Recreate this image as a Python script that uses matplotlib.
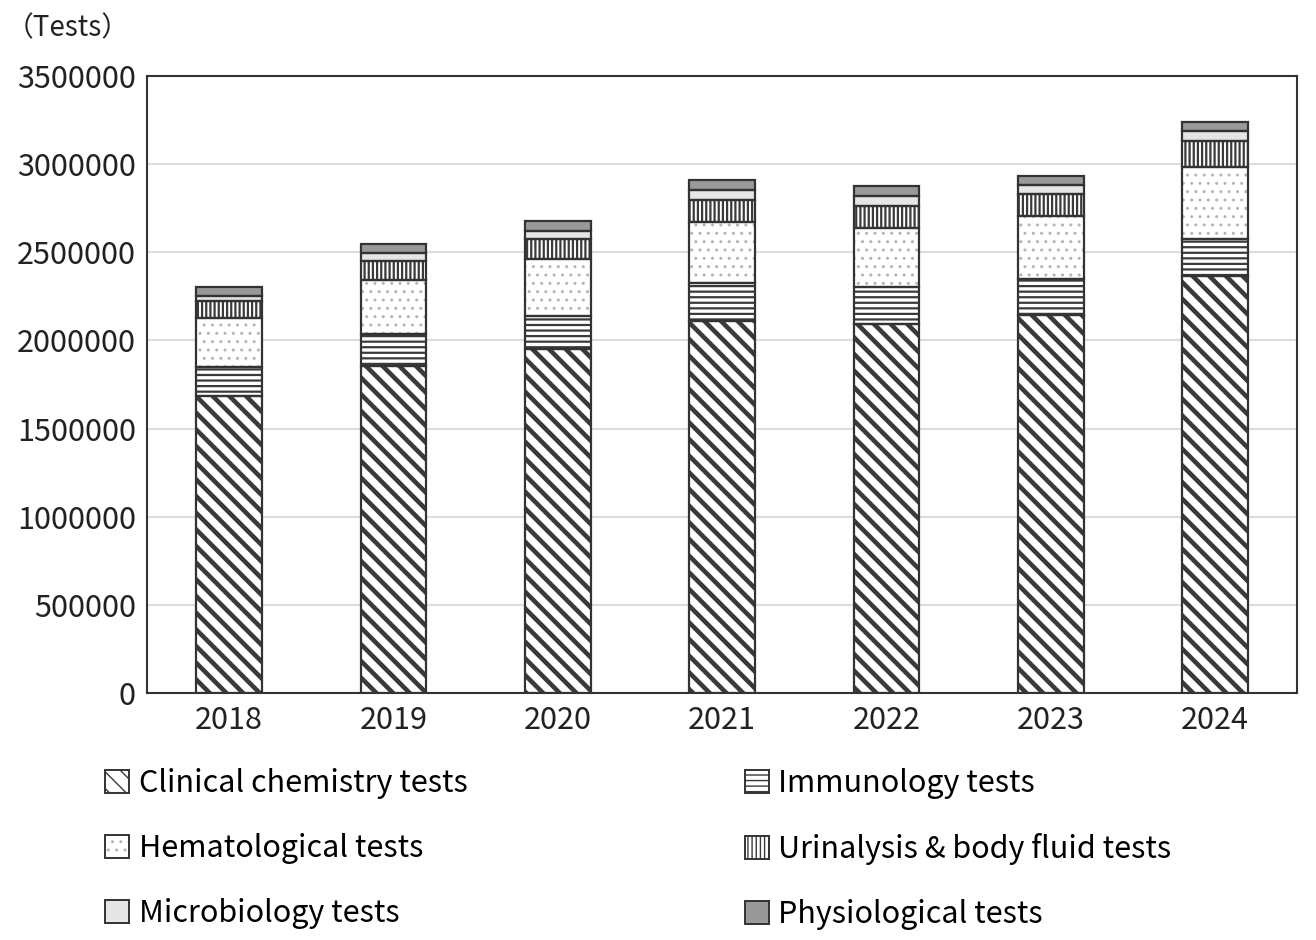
import matplotlib
matplotlib.use("Agg")
import matplotlib.pyplot as plt
from matplotlib.patches import Patch
from matplotlib.legend_handler import HandlerTuple
import numpy as np

plt.rcParams['font.family'] = ['Noto Sans CJK JP', 'DejaVu Sans']

years = ["2018", "2019", "2020", "2021", "2022", "2023", "2024"]
clinical = [1685000, 1857000, 1951000, 2112000, 2092000, 2144000, 2366000]
immuno = [166000, 178000, 187000, 212000, 210000, 203000, 210000]
hema = [275000, 308000, 323000, 350000, 338000, 361000, 410000]
urine = [100000, 110000, 114000, 121000, 125000, 123000, 144000]
micro = [28000, 45000, 45000, 58000, 57000, 53000, 58000]
physio = [48000, 48000, 55000, 57000, 57000, 49000, 51000]

labels = ["Clinical chemistry tests", "Immunology tests", "Hematological tests",
          "Urinalysis & body fluid tests", "Microbiology tests", "Physiological tests"]
series = [clinical, immuno, hema, urine, micro, physio]
# fill colour, hatch, hatch colour, hatch linewidth
styles = [("white", "\\\\", "#3a3a3a", 3.3),
          ("white", "---", "#3a3a3a", 1.6),
          ("white", "..", "#b5b5b5", 1.0),
          ("white", "||||", "#3a3a3a", 1.6),
          ("#e6e6e6", "", "#e6e6e6", 1.0),
          ("#999999", "", "#999999", 1.0)]

fig = plt.figure(figsize=(13.16, 9.4), dpi=100)
ax = fig.add_axes([0.1117, 0.2628, 0.874, 0.6563])

x = np.arange(len(years))
w = 0.40
bottom = np.zeros(len(years))
handles = []
for vals, (fc, hatch, hc, hlw), lab in zip(series, styles, labels):
    plt.rcParams['hatch.linewidth'] = hlw
    bars = ax.bar(x, vals, w, bottom=bottom, color=fc, edgecolor=hc, hatch=hatch,
                  linewidth=0, zorder=2)
    for b in bars:
        if hasattr(b, "set_hatch_linewidth"):
            b.set_hatch_linewidth(hlw)
    ax.bar(x, vals, w, bottom=bottom, fill=False, edgecolor="#333333",
           linewidth=1.6, zorder=3)
    hp = Patch(facecolor=fc, edgecolor=hc, hatch=hatch, linewidth=0)
    if hasattr(hp, "set_hatch_linewidth"):
        hp.set_hatch_linewidth(min(hlw, 2.2))
    handles.append((hp, Patch(fill=False, edgecolor="#333333", linewidth=1.4), lab))
    bottom += np.array(vals)

ax.set_xlim(-0.5, 6.5)
ax.set_ylim(0, 3500000)
ax.set_yticks(np.arange(0, 3500001, 500000))
ax.set_yticklabels([str(v) for v in range(0, 3500001, 500000)])
ax.set_xticks(x)
ax.set_xticklabels(years)
ax.tick_params(axis="both", length=0, labelsize=22, colors="#222222")
ax.tick_params(axis="x", pad=9)
ax.tick_params(axis="y", pad=8)
ax.yaxis.grid(True, color="#dddddd", linewidth=1.5, zorder=0)
ax.set_axisbelow(True)
for s in ax.spines.values():
    s.set_color("#333333")
    s.set_linewidth(1.5)

fig.text(0.004, 0.97, "（Tests）", fontsize=20, va="center", ha="left", color="#222222")

left = [handles[0], handles[2], handles[4]]
right = [handles[1], handles[3], handles[5]]
for group, xpos in [(left, 0.0705), (right, 0.5565)]:
    fig.legend([(h[0], h[1]) for h in group], [h[2] for h in group],
               handler_map={tuple: HandlerTuple(ndivide=1, pad=0)},
               loc="upper left", bbox_to_anchor=(xpos, 0.196), frameon=False,
               fontsize=22, handlelength=0.8, handleheight=0.8,
               handletextpad=0.3, labelspacing=1.12, borderaxespad=0)

fig.savefig("out.png", dpi=100)
